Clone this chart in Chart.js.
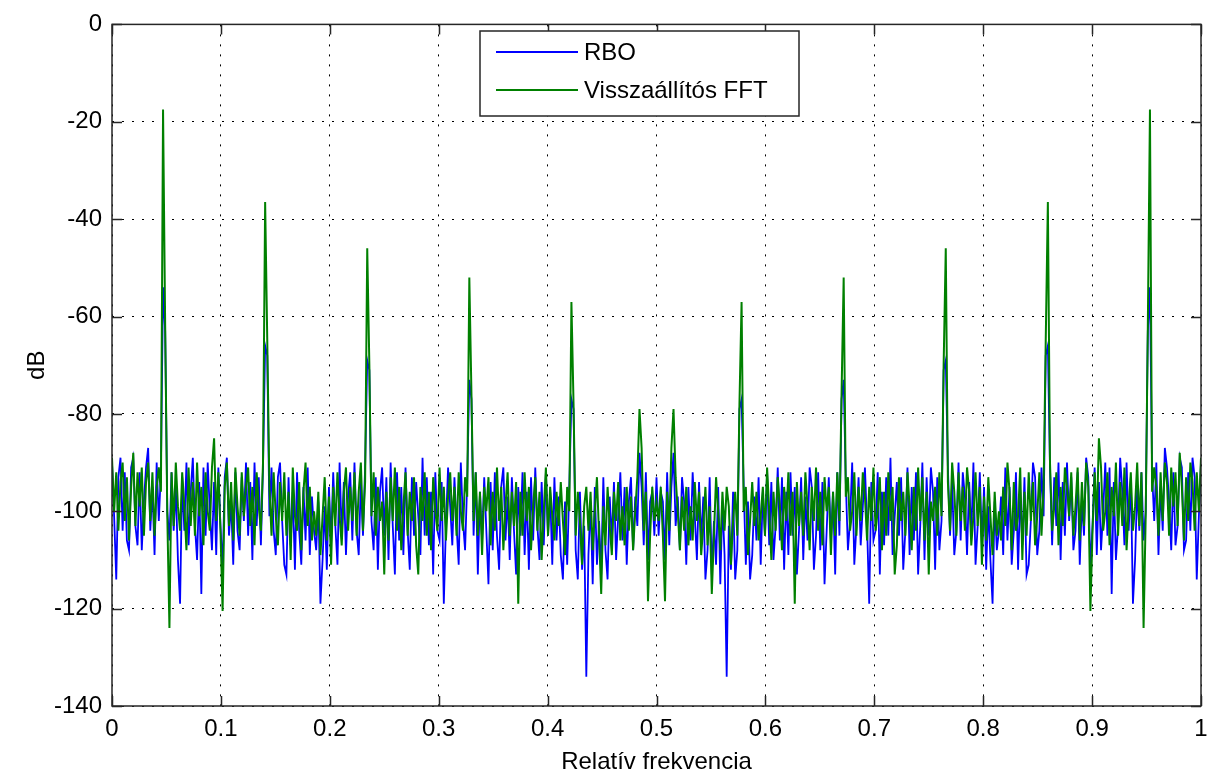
<!DOCTYPE html>
<html>
<head>
<meta charset="utf-8">
<script src="https://cdn.jsdelivr.net/npm/chart.js@4.4.1/dist/chart.umd.min.js"></script>
<style>
  body { margin: 0; background: #fff; }
  #wrap { width: 1210px; height: 778px; }
</style>
</head>
<body>
<div id="wrap"><canvas id="chart" width="1210" height="778"></canvas></div>
<script>
// Spektrum: 513 pont 0..1 relativ frekvencia (1/512 lepes), ertekek dB-ben
const rboDb = [
  -90, -101, -114, -93, -89, -104, -92, -106, -108, -91, -89, -103, -107, -92, -108, -98,
  -91, -87, -104, -95, -109, -90, -102, -92, -54, -63, -100, -106, -92, -104, -95, -110,
  -119, -93, -104, -90, -107, -96, -89, -103, -110, -94, -117, -91, -105, -90, -100, -108,
  -94, -109, -91, -103, -112, -93, -89, -105, -98, -111, -92, -104, -108, -93, -102, -90,
  -105, -94, -110, -90, -103, -93, -107, -91, -66, -68, -101, -91, -104, -109, -93, -90,
  -102, -111, -113, -93, -107, -96, -112, -92, -104, -111, -95, -106, -91, -109, -97, -104,
  -108, -98, -119, -110, -99, -112, -95, -107, -92, -103, -111, -90, -105, -94, -109, -97,
  -92, -106, -90, -104, -109, -94, -105, -91, -69, -71, -102, -108, -93, -112, -96, -91,
  -105, -93, -110, -90, -103, -113, -92, -106, -95, -109, -91, -104, -112, -93, -105, -94,
  -101, -109, -89, -105, -93, -107, -96, -113, -92, -104, -106, -94, -119, -103, -91, -99,
  -107, -93, -103, -111, -90, -102, -108, -94, -73, -77, -105, -92, -113, -96, -106, -93,
  -104, -115, -94, -108, -92, -105, -112, -95, -91, -106, -97, -110, -93, -104, -113, -95,
  -105, -92, -109, -96, -112, -93, -106, -91, -103, -110, -94, -107, -92, -105, -96, -111,
  -93, -106, -97, -109, -114, -98, -111, -95, -77, -79, -108, -114, -96, -112, -103, -134,
  -109, -98, -115, -95, -111, -102, -113, -93, -108, -114, -97, -106, -94, -110, -101, -92,
  -106, -95, -111, -98, -93, -108, -97, -103, -88, -95, -107, -92, -110, -98, -96, -105,
  -93,
  -105, -96, -98, -110, -92, -107, -95, -88, -103, -97, -108, -93, -98, -111, -95, -106,
  -92, -101, -110, -94, -106, -97, -114, -108, -93, -113, -102, -111, -95, -115, -98, -109,
  -134, -103, -112, -96, -114, -108, -79, -77, -95, -111, -98, -114, -109, -97, -106, -93,
  -111, -96, -105, -92, -107, -94, -110, -103, -91, -106, -93, -112, -96, -109, -92, -105,
  -95, -113, -104, -93, -110, -97, -106, -91, -95, -112, -105, -92, -108, -94, -115, -104,
  -93, -106, -96, -113, -92, -105, -77, -73, -94, -108, -102, -90, -111, -103, -93, -107,
  -99, -91, -103, -119, -94, -106, -104, -92, -113, -96, -107, -93, -105, -89, -109, -101,
  -94, -105, -93, -112, -104, -91, -109, -95, -106, -92, -113, -103, -90, -110, -93, -105,
  -91, -96, -112, -93, -108, -102, -71, -69, -91, -105, -94, -109, -104, -90, -106, -92,
  -97, -109, -94, -105, -90, -111, -103, -92, -107, -95, -112, -99, -110, -119, -98, -108,
  -104, -97, -109, -91, -106, -95, -111, -104, -92, -112, -96, -107, -93, -113, -111, -102,
  -90, -93, -109, -104, -91, -101, -68, -66, -91, -107, -93, -103, -90, -110, -94, -105,
  -90, -102, -93, -108, -104, -92, -111, -98, -105, -89, -93, -112, -103, -91, -109, -94,
  -108, -100, -90, -105, -91, -117, -94, -110, -103, -89, -96, -107, -90, -104, -93, -119,
  -110, -95, -104, -92, -106, -100, -63, -54, -92, -102, -90, -109, -95, -104, -87, -91,
  -98, -108, -92, -107, -103, -89, -91, -108, -106, -92, -104, -89, -93, -114, -101, -90
];

const fftDb = [
  -89, -100, -92, -104, -94, -90, -102, -93, -106, -95, -88, -103, -92, -99, -91, -105,
  -94, -90, -102, -92, -105, -95, -91, -96, -17.5, -62, -101, -124, -92, -103, -90, -99,
  -104, -92, -99, -108, -91, -103, -94, -105, -90, -101, -95, -107, -92, -100, -104, -91,
  -85, -102, -92, -104, -120.5, -95, -90, -103, -94, -106, -91, -99, -105, -92, -101, -95,
  -91, -103, -95, -107, -92, -99, -104, -90, -36.5, -65, -95, -105, -92, -101, -107, -94,
  -102, -92, -105, -96, -110, -91, -101, -104, -94, -108, -96, -90, -103, -95, -106, -100,
  -105, -96, -109, -101, -93, -106, -97, -111, -95, -103, -92, -101, -107, -96, -91, -104,
  -95, -102, -92, -105, -96, -90, -104, -94, -46, -70, -101, -92, -105, -95, -102, -98,
  -113, -96, -106, -93, -102, -91, -104, -95, -108, -99, -92, -105, -96, -102, -93, -107,
  -113, -95, -102, -92, -105, -96, -108, -93, -100, -104, -91, -102, -95, -106, -97, -92,
  -102, -95, -105, -92, -100, -104, -93, -97, -52, -76, -102, -92, -105, -96, -109, -95,
  -100, -93, -107, -96, -104, -91, -102, -95, -108, -99, -92, -105, -96, -103, -94, -119,
  -96, -105, -92, -102, -95, -108, -99, -93, -104, -96, -110, -100, -91, -105, -95, -101,
  -106, -96, -103, -94, -102, -109, -95, -100, -57, -78, -105, -96, -102, -111, -99, -95,
  -104, -96, -108, -100, -93, -105, -117, -99, -107, -95, -103, -109, -96, -102, -94, -106,
  -99, -107, -95, -104, -97, -108, -100, -93, -79, -87, -104, -96, -118.5, -105, -95, -102,
  -98,
  -102, -95, -105, -118.5, -96, -104, -87, -79, -93, -100, -108, -97, -104, -95, -107, -99,
  -106, -94, -102, -96, -109, -103, -95, -107, -99, -117, -105, -93, -100, -108, -96, -104,
  -95, -99, -111, -102, -96, -105, -78, -57, -100, -95, -109, -102, -94, -103, -96, -106,
  -101, -95, -105, -91, -100, -110, -96, -104, -93, -99, -108, -95, -102, -92, -105, -96,
  -119, -94, -103, -96, -105, -92, -99, -108, -95, -102, -91, -104, -96, -107, -93, -100,
  -95, -109, -96, -105, -92, -102, -76, -52, -97, -93, -104, -100, -92, -105, -95, -102,
  -92, -97, -106, -95, -102, -91, -104, -100, -93, -108, -96, -105, -92, -102, -95, -113,
  -107, -93, -102, -96, -105, -92, -99, -108, -95, -104, -91, -102, -93, -106, -96, -113,
  -98, -102, -95, -105, -92, -101, -70, -46, -94, -104, -90, -96, -105, -92, -102, -95,
  -104, -91, -96, -107, -101, -92, -103, -95, -111, -97, -106, -93, -101, -109, -96, -105,
  -100, -106, -95, -103, -90, -96, -108, -94, -104, -101, -91, -110, -96, -105, -92, -102,
  -94, -107, -101, -92, -105, -95, -65, -36.5, -90, -104, -99, -92, -107, -95, -103, -91,
  -95, -101, -92, -105, -99, -91, -106, -94, -103, -90, -95, -120.5, -104, -92, -102, -85,
  -91, -104, -100, -92, -107, -95, -101, -90, -105, -94, -103, -91, -108, -99, -92, -104,
  -99, -90, -103, -92, -124, -101, -62, -17.5, -96, -91, -95, -105, -92, -102, -90, -94,
  -105, -91, -99, -92, -103, -88, -95, -106, -93, -102, -90, -94, -104, -92, -100, -89
];

const seriesNames = ['RBO', 'Visszaállítós FFT'];
const seriesColors = ['#0000ff', '#008000'];
const xTicks = [0, 0.1, 0.2, 0.3, 0.4, 0.5, 0.6, 0.7, 0.8, 0.9, 1];
const yTicks = [-140, -120, -100, -80, -60, -40, -20, 0];

// relativ frekvencia tengely
const relFreq = rboDb.map((_, i) => i / (rboDb.length - 1));

const FONT = "'Liberation Sans', Arial, sans-serif";

// MATLAB-szeru keret, befele allo osztasok, jelmagyarazat
const matlabFrame = {
    id: 'matlabFrame',
    afterDatasetsDraw(chart) {
        const { ctx, chartArea: a, scales: { x, y } } = chart;
        ctx.save();
        ctx.strokeStyle = '#262626';
        ctx.lineWidth = 1.5;
        ctx.strokeRect(a.left, a.top, a.right - a.left, a.bottom - a.top);
        ctx.beginPath();
        xTicks.forEach(v => {
            const px = Math.round(x.getPixelForValue(v)) + 0.5;
            ctx.moveTo(px, a.bottom); ctx.lineTo(px, a.bottom - 10);
            ctx.moveTo(px, a.top); ctx.lineTo(px, a.top + 10);
        });
        yTicks.forEach(v => {
            const py = Math.round(y.getPixelForValue(v)) + 0.5;
            ctx.moveTo(a.left, py); ctx.lineTo(a.left + 10, py);
            ctx.moveTo(a.right, py); ctx.lineTo(a.right - 10, py);
        });
        ctx.stroke();

        // jelmagyarazat
        const bx = 480, by = 31, bw = 319, bh = 85;
        ctx.fillStyle = '#fff';
        ctx.fillRect(bx, by, bw, bh);
        ctx.strokeStyle = '#262626';
        ctx.lineWidth = 1.5;
        ctx.strokeRect(bx, by, bw, bh);
        ctx.font = '24px ' + FONT;
        ctx.textBaseline = 'middle';
        chart.data.datasets.forEach((ds, i) => {
            const ly = by + 21 + i * 38;
            ctx.strokeStyle = ds.borderColor;
            ctx.lineWidth = 2;
            ctx.beginPath();
            ctx.moveTo(bx + 16, ly); ctx.lineTo(bx + 98, ly);
            ctx.stroke();
            ctx.fillStyle = '#000';
            ctx.fillText(ds.label, bx + 104, ly + 1);
        });
        ctx.restore();
    }
};

new Chart(document.getElementById('chart'), {
    type: 'line',
    data: {
        datasets: [
            {
                label: seriesNames[0],
                data: relFreq.map((f, i) => ({ x: f, y: rboDb[i] })),
                borderColor: seriesColors[0],
                borderWidth: 1.8,
                order: 1
            },
            {
                label: seriesNames[1],
                data: relFreq.map((f, i) => ({ x: f, y: fftDb[i] })),
                borderColor: seriesColors[1],
                borderWidth: 2,
                order: 0
            }
        ]
    },
    options: {
        responsive: false,
        animation: false,
        events: [],
        layout: { padding: { top: 21, right: 9, left: 0, bottom: 0 } },
        elements: { point: { radius: 0 }, line: { tension: 0 } },
        plugins: { legend: { display: false }, tooltip: { enabled: false } },
        scales: {
            x: {
                type: 'linear',
                min: 0, max: 1,
                afterFit(scale) {
                    scale.height = 72;
                    scale.paddingRight = 0;
                    scale.paddingLeft = 0;
                },
                afterBuildTicks(scale) { scale.ticks = xTicks.map(v => ({ value: v })); },
                ticks: {
                    color: '#000',
                    font: { family: FONT, size: 24 },
                    padding: 9,
                    maxRotation: 0,
                    callback: v => String(Number(v.toFixed(1)))
                },
                grid: { color: '#000', lineWidth: 1, drawTicks: false },
                border: { display: false, dash: [2, 8] },
                title: {
                    display: true,
                    text: 'Relatív frekvencia',
                    color: '#000',
                    font: { family: FONT, size: 24, lineHeight: 1 },
                    padding: { top: 0, bottom: 4 }
                }
            },
            y: {
                min: -140, max: 0,
                afterFit(scale) { scale.width = 112; },
                afterBuildTicks(scale) { scale.ticks = yTicks.map(v => ({ value: v })); },
                ticks: {
                    color: '#000',
                    font: { family: FONT, size: 24 },
                    padding: 10
                },
                grid: { color: '#000', lineWidth: 1, drawTicks: false },
                border: { display: false, dash: [2, 8] },
                title: {
                    display: true,
                    text: 'dB',
                    color: '#000',
                    font: { family: FONT, size: 24 },
                    padding: { top: 23, bottom: 0 }
                }
            }
        }
    },
    plugins: [matlabFrame]
});
</script>
</body>
</html>
